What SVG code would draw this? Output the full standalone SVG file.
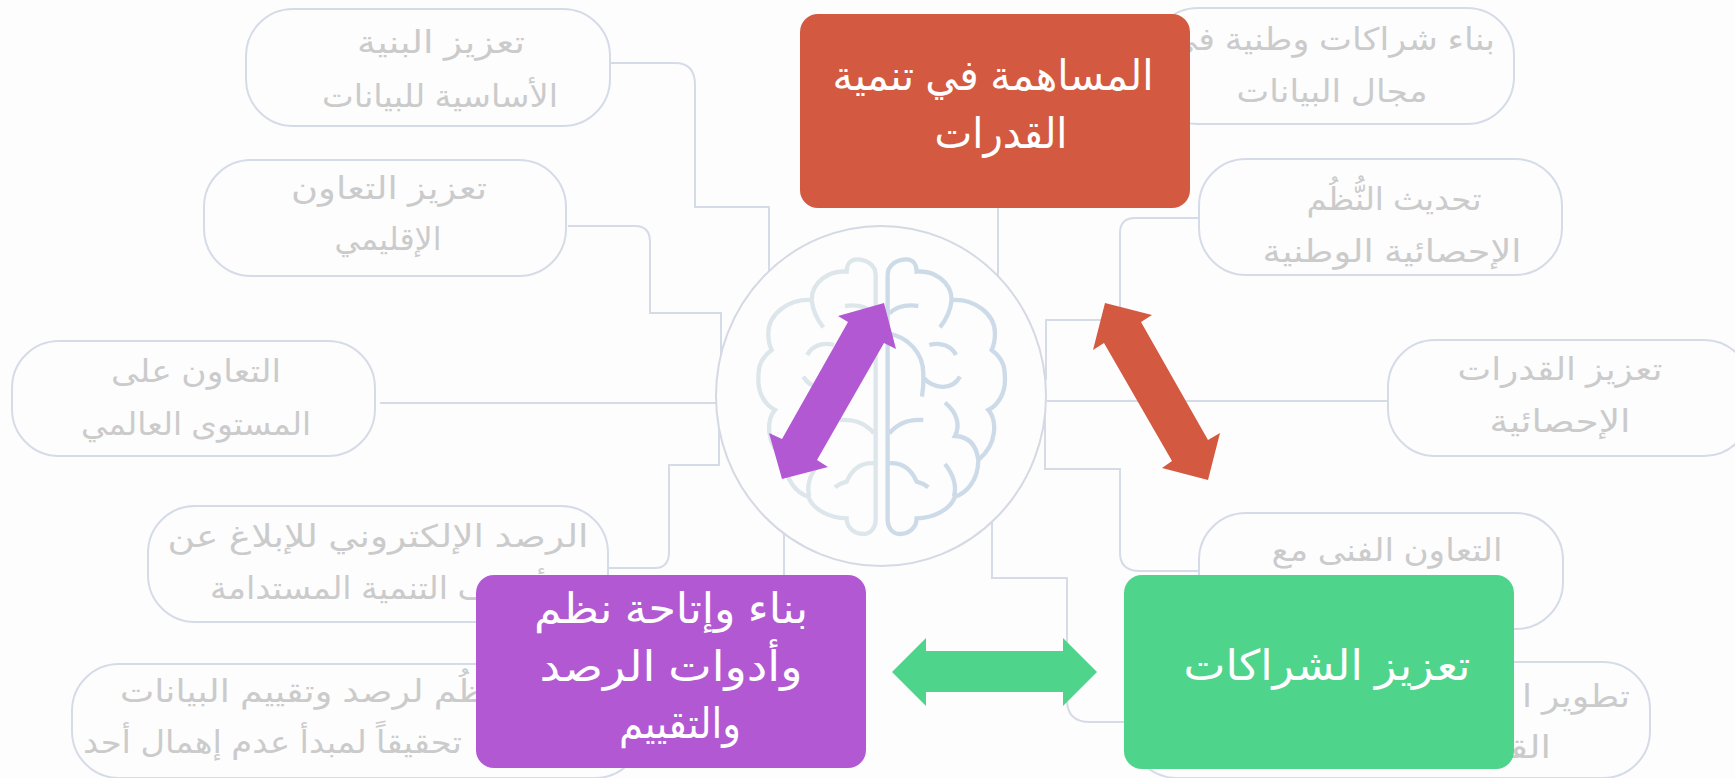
<svg xmlns="http://www.w3.org/2000/svg" width="1735" height="778" viewBox="0 0 1735 778">
<defs>
<style>
.n{fill:#fdfdfe;stroke:#d5dbe7;stroke-width:2}
.t{font-family:"Liberation Sans","DejaVu Sans",sans-serif;font-size:31px;fill:#cbcbcb;text-anchor:middle}
.m{font-family:"Liberation Sans","DejaVu Sans",sans-serif;font-size:42px;fill:#fff;text-anchor:middle}
.e{text-anchor:end}
.s{text-anchor:start}
.c{fill:none;stroke:#d5dbe7;stroke-width:2}
.b{fill:none;stroke-width:13;stroke-linecap:butt}
</style>
<g id="hemi">
<path d="M563 930V195C563 165 590 148 620 148C640 148 650 165 650 185C700 180 755 215 755 270C820 265 885 310 885 370Q885 400 875 420C915 450 915 480 915 510C915 550 895 585 865 600C890 630 895 700 835 750C835 810 800 850 765 860C750 900 700 925 650 925C650 955 625 972 600 972C575 972 563 950 563 930Z"/>
<path d="M755 270Q750 315 720 352M655 288Q600 280 568 310M563 370C625 380 670 430 670 490Q672 525 666 560M688 405C725 395 755 410 768 435M672 505C700 535 755 545 780 500M735 578C775 610 780 650 765 678C810 680 830 710 835 750M670 630Q605 625 568 670M563 760C610 755 635 780 650 815Q670 820 685 832M735 762C765 800 770 830 762 860"/>
</g>
</defs>
<rect width="1735" height="778" fill="#fdfdfd"/>
<g id="connectors">
<path class="c" d="M610 63H675Q695 63 695 85V207H769V272"/>
<path class="c" d="M568 226H635Q650 226 650 242V313H721V366"/>
<path class="c" d="M380 403H718"/>
<path class="c" d="M608 568H655Q669 568 669 552V465H719V428"/>
<path class="c" d="M784 532V590"/>
<path class="c" d="M998 208V277"/>
<path class="c" d="M1199 218H1135Q1120 218 1120 233V320H1046V380"/>
<path class="c" d="M1047 401H1388"/>
<path class="c" d="M1045 412V469H1120V553Q1120 571 1140 571H1199"/>
<path class="c" d="M992 520V578H1067V700Q1067 722 1090 722H1130"/>
</g>
<g id="node-n1"><rect class="n" x="246" y="9" width="364" height="117" rx="47"/><text class="t" x="441" y="53" textLength="168" lengthAdjust="spacingAndGlyphs">تعزيز البنية</text><text class="t" x="440" y="107" textLength="236" lengthAdjust="spacingAndGlyphs">الأساسية للبيانات</text></g>
<g id="node-n2"><rect class="n" x="204" y="160" width="362" height="116" rx="47"/><text class="t" x="389" y="199" textLength="196" lengthAdjust="spacingAndGlyphs">تعزيز التعاون</text><text class="t" x="388" y="250" textLength="107" lengthAdjust="spacingAndGlyphs">الإقليمي</text></g>
<g id="node-n3"><rect class="n" x="12" y="341" width="363" height="115" rx="47"/><text class="t" x="196" y="382" textLength="170" lengthAdjust="spacingAndGlyphs">التعاون على</text><text class="t" x="196" y="435" textLength="230" lengthAdjust="spacingAndGlyphs">المستوى العالمي</text></g>
<g id="node-n4"><rect class="n" x="148" y="506" width="460" height="116" rx="47"/><text class="t" x="378" y="547" textLength="421" lengthAdjust="spacingAndGlyphs">الرصد الإلكتروني للإبلاغ عن</text><text class="t" x="378" y="599" textLength="336" lengthAdjust="spacingAndGlyphs">أهداف التنمية المستدامة</text></g>
<g id="node-n5"><rect class="n" x="72" y="664" width="570" height="114" rx="47"/><text class="t s" x="120" y="702" textLength="400" lengthAdjust="spacingAndGlyphs">النُظُم لرصد وتقييم البيانات</text><text class="t s" x="83" y="753" textLength="379" lengthAdjust="spacingAndGlyphs">تحقيقاً لمبدأ عدم إهمال أحد</text></g>
<g id="node-r1"><rect class="n" x="1151" y="8" width="363" height="116" rx="47"/><text class="t" x="1332" y="50" textLength="326" lengthAdjust="spacingAndGlyphs">بناء شراكات وطنية في</text><text class="t" x="1332" y="102" textLength="191" lengthAdjust="spacingAndGlyphs">مجال البيانات</text></g>
<g id="node-r2"><rect class="n" x="1199" y="159" width="363" height="116" rx="47"/><text class="t" x="1394" y="210" textLength="175" lengthAdjust="spacingAndGlyphs">تحديث النُّظُم</text><text class="t" x="1392" y="262" textLength="259" lengthAdjust="spacingAndGlyphs">الإحصائية الوطنية</text></g>
<g id="node-r3"><rect class="n" x="1388" y="340" width="363" height="116" rx="47"/><text class="t" x="1560" y="380" textLength="205" lengthAdjust="spacingAndGlyphs">تعزيز القدرات</text><text class="t" x="1560" y="432" textLength="141" lengthAdjust="spacingAndGlyphs">الإحصائية</text></g>
<g id="node-r4"><rect class="n" x="1199" y="513" width="364" height="116" rx="47"/><text class="t" x="1387" y="561" textLength="231" lengthAdjust="spacingAndGlyphs">التعاون الفنى مع</text></g>
<g id="node-r5"><rect class="n" x="1130" y="662" width="520" height="116" rx="47"/><text class="t e" x="1630" y="707" textLength="108" lengthAdjust="spacingAndGlyphs">تطوير ا</text><text class="t e" x="1551" y="758" textLength="125" lengthAdjust="spacingAndGlyphs">القدرات</text></g>
<g id="node-center"><ellipse cx="881" cy="396" rx="165" ry="170" fill="#fdfdfe" stroke="#d5d9e4" stroke-width="2"/>
<g transform="translate(700 210) scale(.3333)"><use href="#hemi" class="b" stroke="#cddbe8"/><use href="#hemi" class="b" stroke="#dde6ea" transform="translate(1090 0) scale(-1 1)"/></g></g>
<g id="node-red"><rect x="800" y="14" width="390" height="194" rx="18" fill="#d35940"/><text class="m" x="993" y="90" textLength="321" lengthAdjust="spacingAndGlyphs">المساهمة في تنمية</text><text class="m" x="1001" y="148" textLength="133" lengthAdjust="spacingAndGlyphs">القدرات</text></g>
<g id="node-purple"><rect x="476" y="575" width="390" height="193" rx="18" fill="#b258d3"/><text class="m" x="671" y="623" textLength="274" lengthAdjust="spacingAndGlyphs">بناء وإتاحة نظم</text><text class="m" x="671" y="681" textLength="263" lengthAdjust="spacingAndGlyphs">وأدوات الرصد</text><text class="m" x="680" y="738" textLength="122" lengthAdjust="spacingAndGlyphs">والتقييم</text></g>
<g id="node-green"><rect x="1124" y="575" width="390" height="194" rx="18" fill="#4fd48c"/><text class="m" x="1327" y="680" textLength="287" lengthAdjust="spacingAndGlyphs">تعزيز الشراكات</text></g>
<g id="arrows">
<polygon fill="#b258d3" points="884,303 896,349 884,343 817,460 828,467 782,479 769,433 782,439 848,322 838,316"/>
<polygon fill="#d35940" points="1105,303 1152,315 1141,322 1208,440 1220,433 1208,480 1162,468 1172,461 1104,343 1093,350"/>
<polygon fill="#4fd48c" points="892,672 926,638 926,651 1063,651 1063,638 1097,672 1063,706 1063,692 926,692 926,706"/>
</g>
</svg>
